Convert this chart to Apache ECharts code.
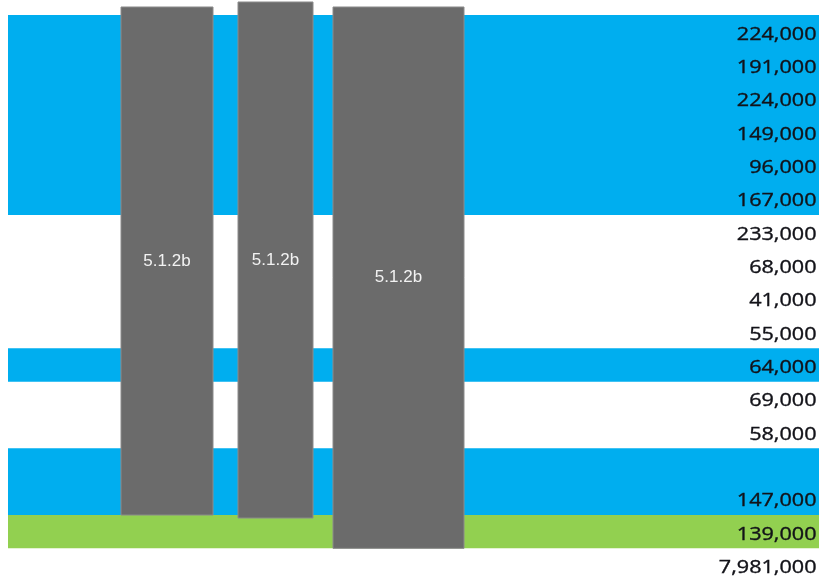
<!DOCTYPE html>
<html>
<head>
<meta charset="utf-8">
<script src="https://cdn.jsdelivr.net/npm/echarts@6/dist/echarts.min.js"></script>
<style>html,body{margin:0;padding:0;background:#fff;}#c{width:822px;height:586px;}</style>
</head>
<body>
<div id="c"></div>
<script>
// Row values (table column), top to bottom
var rowValues = ["224,000","191,000","224,000","149,000","96,000","167,000","233,000","68,000","41,000","55,000","64,000","69,000","58,000","","147,000","139,000","7,981,000"];
// Row highlight category
var rowFill = ["blue","blue","blue","blue","blue","blue","white","white","white","white","blue","white","white","blue","blue","green","white"];
// Redaction boxes (x in horizontal units, y in row units)
var redactStart = [121, 238, 333];
var redactEnd = [213, 313, 464];
var redactTopRow = [-0.24, -0.39, -0.24];
var redactBottomRow = [15.0, 15.09, 16.0];
var redactLabels = ["5.1.2b", "5.1.2b", "5.1.2b"];

var fillColors = { blue: "#00AEEF", green: "#92D050", white: null };
var BAND_LEFT = 8, BAND_RIGHT = 819, TEXT_RIGHT = 816.5;

var bandData = rowFill.map(function (f, i) { return [i, f]; });
var valueData = rowValues.map(function (v, i) { return [i, v]; });
var redactData = redactStart.map(function (s, i) {
  return [s, redactEnd[i], redactTopRow[i], redactBottomRow[i], redactLabels[i]];
});

var chart = echarts.init(document.getElementById('c'), null, { renderer: 'canvas' });
chart.setOption({
  animation: false,
  backgroundColor: '#ffffff',
  grid: { left: 0, right: 0, top: 15, bottom: 4.3 },
  xAxis: { type: 'value', min: 0, max: 822, show: false },
  yAxis: { type: 'value', min: 0, max: 17, inverse: true, show: false },
  series: [
    {
      type: 'custom',
      data: bandData,
      silent: true,
      z: 1,
      renderItem: function (params, api) {
        var row = api.value(0);
        var c = fillColors[rowFill[row]];
        if (!c) return null;
        var p0 = api.coord([BAND_LEFT, row]);
        var p1 = api.coord([BAND_RIGHT, row + 1]);
        var next = rowFill[row + 1];
        var extra = (next === rowFill[row]) ? 1 : 0;
        return {
          type: 'rect',
          shape: { x: p0[0], y: p0[1], width: p1[0] - p0[0], height: p1[1] - p0[1] + extra },
          style: { fill: c }
        };
      }
    },
    {
      type: 'custom',
      data: valueData,
      silent: true,
      z: 2,
      renderItem: function (params, api) {
        var row = api.value(0);
        var txt = rowValues[row];
        var pa = api.coord([TEXT_RIGHT, row + 0.5]);
        return {
          type: 'text',
          x: pa[0],
          y: pa[1] + 3,
          scaleX: 1.2,
          style: {
            text: txt,
            fill: '#121218',
            font: '18px "Open Sans", sans-serif',
            align: 'right',
            verticalAlign: 'middle',
            stroke: '#121218',
            lineWidth: 0.35
          }
        };
      }
    },
    {
      type: 'custom',
      data: redactData,
      silent: true,
      clip: false,
      z: 3,
      renderItem: function (params, api) {
        var p0 = api.coord([api.value(0), api.value(2)]);
        var p1 = api.coord([api.value(1), api.value(3)]);
        var lbl = redactLabels[params.dataIndex];
        return {
          type: 'group',
          children: [
            {
              type: 'rect',
              shape: { x: p0[0], y: p0[1], width: p1[0] - p0[0], height: p1[1] - p0[1] },
              style: { fill: '#6b6b6b', stroke: '#8c8c8c', lineWidth: 1 }
            },
            {
              type: 'text',
              x: (p0[0] + p1[0]) / 2,
              y: (p0[1] + p1[1]) / 2,
              style: {
                text: lbl,
                fill: '#f2f2f2',
                font: '17px "Liberation Sans", Arial, sans-serif',
                align: 'center',
                verticalAlign: 'middle'
              }
            }
          ]
        };
      }
    }
  ]
});
</script>
</body>
</html>
